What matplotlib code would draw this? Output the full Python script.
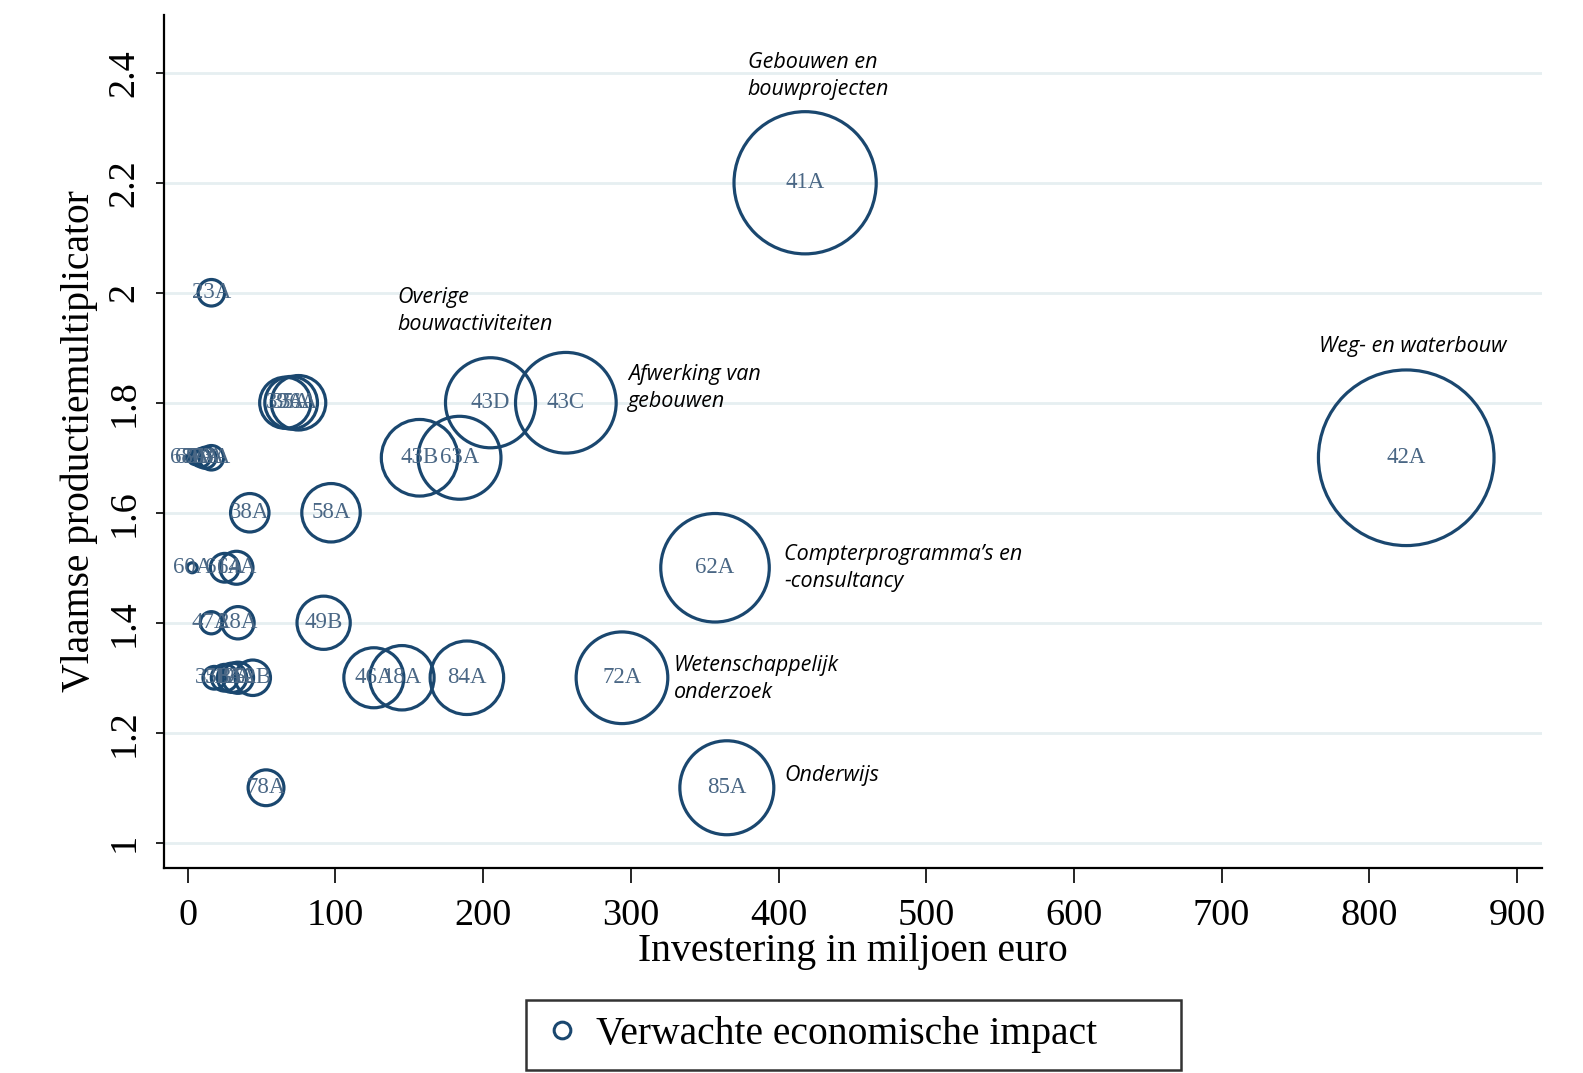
import matplotlib.pyplot as plt
import numpy as np
from matplotlib.lines import Line2D

# Data: sector code, investment (million euro), Flemish production multiplier
codes = ['41A', '42A', '62A', '72A', '85A', '43C', '43D', '43B', '63A', '84A',
         '46A', '18A', '58A', '49B', '38A', '78A', '23A', '39A', '35A', '36A',
         '68A', '69A', '70A', '71A', '73A', '60A', '61A', '64A', '47A', '28A',
         '35B', '31A', '19A', '33A', '52B']
invest = [418, 825, 357, 294, 365, 256, 205, 157, 184, 189,
          126, 145, 97, 92, 42, 53, 16, 66, 70, 75,
          1, 5, 9, 12, 16, 3, 25, 33, 16, 34,
          18, 25, 30, 34, 44]
mult = [2.2, 1.7, 1.5, 1.3, 1.1, 1.8, 1.8, 1.7, 1.7, 1.3,
        1.3, 1.3, 1.6, 1.4, 1.6, 1.1, 2.0, 1.8, 1.8, 1.8,
        1.7, 1.7, 1.7, 1.7, 1.7, 1.5, 1.5, 1.5, 1.4, 1.4,
        1.3, 1.3, 1.3, 1.3, 1.3]

# Sector names written next to the big bubbles
notes = ['Gebouwen en\nbouwprojecten', 'Overige\nbouwactiviteiten', 'Afwerking van\ngebouwen',
         'Weg- en waterbouw', 'Compterprogramma\u2019s en\n-consultancy',
         'Wetenschappelijk\nonderzoek', 'Onderwijs']
note_x = [379, 142, 298, 766, 404, 329, 404]
note_y = [2.394, 1.967, 1.827, 1.903, 1.500, 1.298, 1.123]

navy = '#1a476f'
serif = 'Liberation Serif'

fig = plt.figure(figsize=(15.83, 10.73), dpi=100)
ax = fig.add_axes([0.1033, 0.191, 0.8705, 0.795])

x = np.array(invest, dtype=float)
y = np.array(mult, dtype=float)
impact = x * y
ax.scatter(x, y, s=impact * 11.4, facecolors='none', edgecolors=navy,
           linewidths=2.3, zorder=3)

for c, xi, yi in zip(codes, x, y):
    ax.text(xi, yi, c, ha='center', va='center', fontsize=16.5, family=serif,
            color='#4a6785', zorder=4)

for t, xi, yi in zip(notes, note_x, note_y):
    ax.text(xi, yi, t, ha='left', va='center', fontsize=15.5, style='italic',
            family='Open Sans', linespacing=1.4, color='black')

ax.set_xlim(-16.4, 916.6)
ax.set_ylim(0.954, 2.505)
ax.set_xticks(np.arange(0, 901, 100))
ax.set_yticks([1, 1.2, 1.4, 1.6, 1.8, 2, 2.2, 2.4])
ax.set_yticklabels(['1', '1.2', '1.4', '1.6', '1.8', '2', '2.2', '2.4'])
ax.grid(axis='y', color='#e6eff1', linewidth=2, zorder=0)
ax.set_axisbelow(True)

for s in ['top', 'right']:
    ax.spines[s].set_visible(False)
for s in ['left', 'bottom']:
    ax.spines[s].set_linewidth(1.6)

ax.tick_params(axis='x', length=11, width=1.2, pad=11, labelsize=27.5)
ax.tick_params(axis='y', length=6, width=1.2, pad=10, labelsize=27.5)
for lab in ax.get_xticklabels() + ax.get_yticklabels():
    lab.set_family(serif)
for lab in ax.get_yticklabels():
    lab.set_rotation(90)
    lab.set_va('center')

ax.set_xlabel('Investering in miljoen euro', fontsize=28.5, family=serif, labelpad=0)
ax.set_ylabel('Vlaamse productiemultiplicator', fontsize=28.5, family=serif, labelpad=6)

handle = Line2D([], [], marker='o', linestyle='none', markerfacecolor='none',
                markeredgecolor=navy, markeredgewidth=2.2, markersize=12)
leg = fig.legend([handle], ['Verwachte economische impact'], loc='center',
                 bbox_to_anchor=(0.3323, 0.0356, 0.4138, 0.0), mode='expand',
                 fancybox=False, frameon=True,
                 prop={'family': serif, 'size': 28.5}, borderpad=0.42,
                 handletextpad=0.35, borderaxespad=0, handlelength=1.0)
leg.get_frame().set_edgecolor('black')
leg.get_frame().set_linewidth(1.8)

fig.savefig('out.png', dpi=100)
